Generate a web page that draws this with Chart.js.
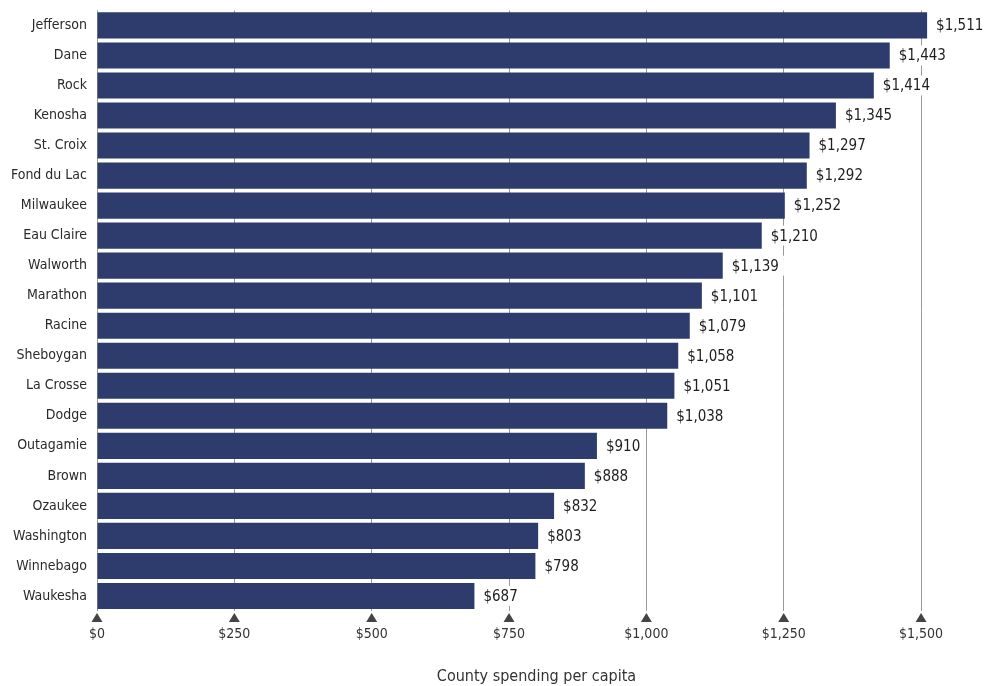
<!DOCTYPE html>
<html>
<head>
<meta charset="utf-8">
<script src="https://cdn.jsdelivr.net/npm/chart.js@4.4.1/dist/chart.umd.min.js"></script>
<style>
  html, body { margin: 0; padding: 0; background: #fff; }
  #wrap { width: 984px; height: 686px; position: relative; }
</style>
</head>
<body>
<div id="wrap"><canvas id="chart"></canvas></div>
<script>
// Data
const counties = [
    "Jefferson", "Dane", "Rock", "Kenosha", "St. Croix", "Fond du Lac", "Milwaukee",
    "Eau Claire", "Walworth", "Marathon", "Racine", "Sheboygan", "La Crosse", "Dodge",
    "Outagamie", "Brown", "Ozaukee", "Washington", "Winnebago", "Waukesha"
];
const spending = [
    1511, 1443, 1414, 1345, 1297, 1292, 1252, 1210, 1139, 1101,
    1079, 1058, 1051, 1038, 910, 888, 832, 803, 798, 687
];
const tickValues = [0, 250, 500, 750, 1000, 1250, 1500];

const FONT = "'Liberation Sans Narrow', 'DejaVu Sans Condensed', 'Liberation Sans', sans-serif";
const money = v => "$" + v.toLocaleString("en-US");

// Value labels with white backing (they break the grid lines)
const valueLabels = {
    id: "valueLabels",
    afterDatasetsDraw(chart) {
        const ctx = chart.ctx;
        const meta = chart.getDatasetMeta(0);
        ctx.save();
        ctx.font = "15px " + FONT;
        ctx.textBaseline = "middle";
        ctx.textAlign = "left";
        meta.data.forEach((bar, i) => {
            const text = money(spending[i]);
            const x = bar.x + 9;
            const w = ctx.measureText(text).width;
            ctx.fillStyle = "#fff";
            ctx.fillRect(x - 5, bar.y - 10, w + 10, 20);
            ctx.fillStyle = "#1e1e1e";
            ctx.fillText(text, x, bar.y + 1);
        });
        ctx.restore();
    }
};

// Small triangles at the foot of each grid line
const tickTriangles = {
    id: "tickTriangles",
    afterDraw(chart) {
        const ctx = chart.ctx;
        const xs = chart.scales.x;
        const y0 = chart.chartArea.bottom + 2;
        ctx.save();
        ctx.fillStyle = "#444";
        tickValues.forEach(v => {
            const x = xs.getPixelForValue(v);
            ctx.beginPath();
            ctx.moveTo(x, y0);
            ctx.lineTo(x - 5.5, y0 + 9);
            ctx.lineTo(x + 5.5, y0 + 9);
            ctx.closePath();
            ctx.fill();
        });
        ctx.restore();
    }
};

new Chart(document.getElementById("chart"), {
    type: "bar",
    data: {
        labels: counties,
        datasets: [{
            data: spending,
            backgroundColor: "#2d3c6c",
            borderWidth: 0,
            barPercentage: 0.87,
            categoryPercentage: 1.0
        }]
    },
    options: {
        indexAxis: "y",
        responsive: true,
        maintainAspectRatio: false,
        animation: false,
        layout: { padding: { top: 3, right: 8, left: 0, bottom: 0 } },
        plugins: {
            legend: { display: false },
            tooltip: { enabled: false }
        },
        scales: {
            x: {
                min: 0,
                max: 1600,
                afterBuildTicks: scale => {
                    scale.ticks = tickValues.map(v => ({ value: v }));
                },
                afterFit: scale => { scale.height = 75; },
                border: { display: false },
                grid: {
                    color: "#9a9a9a",
                    lineWidth: 1,
                    drawTicks: false
                },
                ticks: {
                    padding: 15,
                    color: "#333",
                    font: { family: FONT, size: 14 },
                    callback: v => money(v)
                },
                title: {
                    display: true,
                    text: "County spending per capita",
                    color: "#333",
                    font: { family: FONT, size: 16 },
                    padding: { top: 21, bottom: 0 }
                }
            },
            y: {
                afterFit: scale => { scale.width = 97; },
                border: { display: false },
                grid: { display: false },
                ticks: {
                    padding: 2,
                    color: "#2a2a2a",
                    font: { family: FONT, size: 14 }
                }
            }
        }
    },
    plugins: [valueLabels, tickTriangles]
});
</script>
</body>
</html>
